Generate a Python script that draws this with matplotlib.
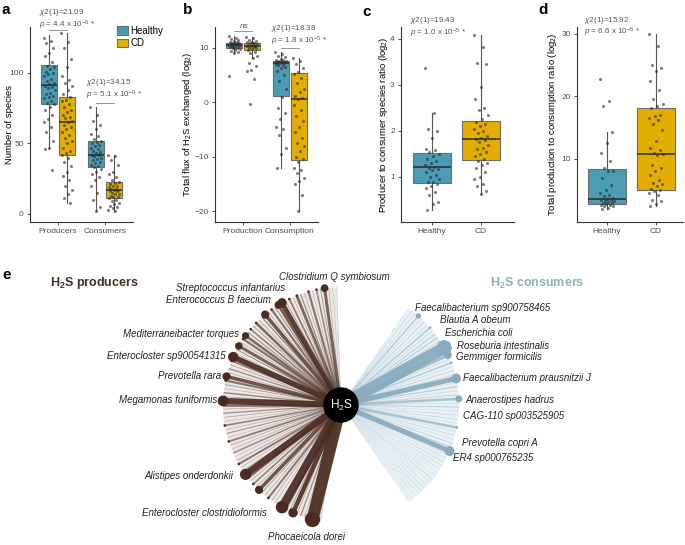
import numpy as np
import matplotlib
matplotlib.use("Agg")
import matplotlib.pyplot as plt
from matplotlib.patches import Patch, Wedge, Circle

plt.rcParams['font.family'] = ['Liberation Sans', 'DejaVu Sans']
plt.rcParams['mathtext.fontset'] = 'custom'
plt.rcParams['mathtext.rm'] = 'Liberation Sans'
plt.rcParams['mathtext.it'] = 'Liberation Sans:italic'
plt.rcParams['mathtext.bf'] = 'Liberation Sans:bold'

W, H = 685, 545
HEALTHY = '#4a9bb3'
CD = '#e3ad00'
BROWN = '#4a2b20'
BLUE = '#87abbf'

# ---- panel a: number of species (Producers H, Producers CD, Consumers H, Consumers CD)
a_med = [91.5, 65, 42, 17]
a_q1 = [78, 42, 33, 11]
a_q3 = [106, 83, 52, 23]
a_lo = [47, 8, 2, 2]
a_hi = [127, 128, 76, 42]
a_prod_h = [125, 123, 121, 118, 114, 112, 108, 105, 104, 103, 101, 100, 99, 98, 96, 94, 93, 92, 91,
            90, 89, 88, 86, 85, 84, 83, 82, 80, 79, 78, 76, 74, 70, 67, 65, 62, 58, 52, 47, 46, 31]
a_prod_cd = [128, 122, 118, 110, 104, 98, 95, 93, 91, 88, 85, 83, 81, 80, 78, 76, 74, 72, 70, 69, 68,
             66, 65, 63, 62, 60, 58, 56, 54, 52, 50, 47, 45, 43, 42, 40, 37, 34, 30, 27, 24, 20, 17, 14, 11, 8]
a_cons_h = [76, 70, 66, 63, 60, 57, 55, 53, 52, 51, 50, 49, 48, 47, 46, 45, 44, 43, 42, 42, 41, 40,
            39, 38, 37, 36, 35, 34, 33, 32, 30, 28, 26, 24, 20, 15, 10, 5, 2]
a_cons_cd = [42, 41, 38, 35, 30, 28, 26, 24, 23, 22, 21, 20, 20, 19, 18, 18, 17, 17, 16, 16, 15, 14,
             14, 13, 12, 12, 11, 10, 9, 8, 7, 6, 5, 4, 3, 2]

# ---- panel b: total H2S flux (log2)
b_med = [10.5, 10.3, 7.1, 0.6]
b_q1 = [9.9, 9.6, 1.1, -10.6]
b_q3 = [10.8, 10.8, 7.5, 5.4]
b_lo = [9.0, 8.1, -12.0, -20.0]
b_hi = [12.1, 12.0, 9.2, 8.2]
b_prod_h = [12.1, 11.8, 11.6, 11.4, 11.2, 11.1, 11.0, 10.9, 10.8, 10.8, 10.7, 10.6, 10.6, 10.5, 10.5,
            10.4, 10.3, 10.2, 10.1, 10.0, 9.9, 9.8, 9.6, 9.4, 9.2, 9.0, 4.8]
b_prod_cd = [12.0, 11.7, 11.5, 11.3, 11.1, 11.0, 10.9, 10.8, 10.7, 10.6, 10.5, 10.4, 10.3, 10.3, 10.2,
             10.0, 9.9, 9.8, 9.6, 9.3, 9.0, 8.5, 8.1, 7.2, 6.6, 5.9, 5.7, 4.3, -0.4]
b_cons_h = [9.2, 8.8, 8.5, 8.3, 8.0, 7.8, 7.7, 7.6, 7.5, 7.4, 7.3, 7.2, 7.1, 7.0, 6.9, 6.8, 6.5, 6.2,
            5.8, 5.0, 3.8, 2.5, 1.0, -1.0, -2.0, -3.0, -4.5, -5.0, -6.0, -8.5, -9.5, -12.0]
b_cons_cd = [8.2, 7.6, 7.0, 6.2, 5.5, 5.2, 4.5, 3.5, 2.5, 1.8, 1.2, 0.8, 0.5, -0.5, -1.5, -2.5, -3.5,
             -4.5, -5.5, -6.5, -7.5, -8.0, -9.0, -10.0, -10.5, -11.0, -12.0, -12.5, -13.0, -14.0,
             -14.5, -15.0, -17.0, -20.0]

# ---- panel c: producer/consumer species ratio (Healthy, CD)
c_med = [1.21, 1.83]
c_q1 = [0.87, 1.37]
c_q3 = [1.52, 2.22]
c_lo = [0.28, 0.62]
c_hi = [2.39, 4.08]
c_h = [3.37, 2.39, 2.05, 2.0, 1.85, 1.6, 1.58, 1.55, 1.5, 1.45, 1.4, 1.35, 1.3, 1.25, 1.22, 1.2, 1.18,
       1.15, 1.1, 1.05, 1.0, 0.95, 0.9, 0.88, 0.85, 0.8, 0.75, 0.68, 0.6, 0.45, 0.42, 0.28]
c_cd = [4.08, 3.82, 3.48, 3.45, 2.95, 2.7, 2.5, 2.45, 2.35, 2.25, 2.2, 2.15, 2.1, 2.05, 2.0, 1.95, 1.9,
        1.85, 1.83, 1.8, 1.75, 1.7, 1.62, 1.6, 1.55, 1.5, 1.45, 1.4, 1.35, 1.3, 1.25, 1.2, 1.1, 1.0,
        0.95, 0.85, 0.8, 0.7, 0.62]

# ---- panel d: production/consumption ratio
d_med = [3.6, 10.8]
d_q1 = [2.8, 5.0]
d_q3 = [8.4, 18.2]
d_lo = [2.0, 2.5]
d_hi = [14.3, 30.0]
d_h = [22.8, 19.3, 18.4, 14.3, 12.6, 11.0, 9.6, 8.6, 8.1, 8.0, 7.0, 5.8, 5.1, 4.5, 4.2, 4.0, 3.8, 3.6,
       3.5, 3.4, 3.3, 3.2, 3.1, 3.0, 2.9, 2.8, 2.7, 2.6, 2.5, 2.4, 2.2, 2.0]
d_cd = [30.0, 28.0, 25.0, 24.6, 24.0, 22.5, 21.0, 19.6, 18.8, 18.5, 18.2, 17.0, 16.8, 16.5, 16.2, 15.6,
        14.6, 12.8, 11.8, 11.5, 11.0, 10.8, 10.6, 9.0, 8.6, 8.0, 7.5, 6.6, 6.2, 6.0, 5.7, 5.2, 5.0,
        4.8, 4.6, 4.2, 3.5, 3.2, 2.8, 2.5]

# ---- panel e: H2S exchange network
prod_names = ['Clostridium Q symbiosum', 'Streptococcus infantarius', 'Enterococcus B faecium',
              'Mediterraneibacter torques', 'Enterocloster sp900541315', 'Prevotella rara',
              'Megamonas funiformis', 'Alistipes onderdonkii', 'Enterocloster clostridioformis',
              'Phocaeicola dorei']
prod_flux = [0.3, 3.0, 4.5, 2.6, 5.5, 3.5, 6.0, 6.5, 8.0, 12.0]
prod_rank = [0, 3, 14, 26, 32, 37, 43, 62, 74, 82]
prod_other = [0.3, 0.5,
              0.8, 1.5, 0.4, 2.2, 0.6, 1.2, 2.8, 0.5, 1.8, 0.7,
              3.2, 1.0, 2.2, 0.5, 3.5, 1.2, 0.6, 2.6, 0.8, 1.6, 1.0,
              2.2, 0.6, 3.0, 1.0, 0.5,
              1.8, 0.7, 1.2, 0.5,
              2.2, 0.8, 0.4, 1.4, 0.6,
              2.6, 0.5, 1.2, 0.6, 0.4, 1.6, 0.5, 1.0, 0.4, 1.8, 0.6, 0.5, 1.4, 0.4, 0.7, 2.0, 0.5, 0.8,
              2.6, 0.6, 1.6, 0.5, 3.5, 0.8, 0.5, 2.0, 0.6, 0.4, 0.8,
              2.6, 0.8, 4.5, 0.6, 1.2, 0.5, 0.8,
              0.6, 0.4]

cons_names = ['Faecalibacterium sp900758465', 'Blautia A obeum', 'Escherichia coli',
              'Roseburia intestinalis', 'Gemmiger formicilis', 'Faecalibacterium prausnitzii J',
              'Anaerostipes hadrus', 'CAG-110 sp003525905', 'Prevotella copri A', 'ER4 sp000765235']
cons_flux = [1.5, 1.0, 1.2, 12.0, 2.0, 5.0, 2.5, 0.6, 1.0, 5.0]
cons_rank = [3, 9, 10, 13, 14, 21, 26, 30, 38, 39]
cons_other = [0.4, 0.6, 0.5,
              0.5, 0.8, 0.4, 1.5, 0.6,
              0.8, 1.2,
              3.0, 0.6, 1.5, 0.5, 0.8, 0.6,
              0.6, 1.2, 0.5, 0.8,
              0.5, 1.0, 0.4,
              0.6, 0.4, 2.5, 0.5, 0.6, 0.4, 0.8,
              0.5, 0.4, 0.6, 0.4, 0.5, 0.3, 0.4, 0.6, 0.3, 0.4, 0.3, 0.5, 0.3, 0.4, 0.3, 0.3]

# label offsets (pixels) from node end
prod_off = [(-3, 5, 'center'), (-39, 0, 'right'), (-11, 3, 'right'), (-7, 2, 'right'), (-8, 1, 'right'),
            (-5, 0, 'right'), (-6, 1, 'right'), (-12, -2, 'right'), (-15, -6, 'right'), (-6, -18, 'center')]
cons_off = [(-3, 8), (5, 14), (7, 4), (13, 2), (10, -6), (7, 0), (7, -1), (4, -1), (11, 4), (3, -7)]


def axes_px(fig, x0, y0, x1, y1):
    return fig.add_axes([x0 / W, 1 - y1 / H, (x1 - x0) / W, (y1 - y0) / H])


def ftext(fig, x, y, s, **kw):
    fig.text(x / W, 1 - y / H, s, **kw)


def jitter(n, w):
    return np.array([((k * 0.618034) % 1.0 - 0.5) * 2 * w for k in range(n)])


def style(ax, lab_x):
    for s in ['top', 'right']:
        ax.spines[s].set_visible(False)
    for s in ['left', 'bottom']:
        ax.spines[s].set_color('#333333')
        ax.spines[s].set_linewidth(0.8)
    ax.tick_params(labelsize=6, colors='#333333', labelcolor='#4d4d4d', length=2.5, width=0.6, pad=2)
    ax.yaxis.set_label_coords(lab_x, 0.5)


def boxes(ax, pos, width, med, q1, q3, lo, hi, colors, groups, jw):
    stats = [dict(med=m, q1=a, q3=b, whislo=l, whishi=h, fliers=[])
             for m, a, b, l, h in zip(med, q1, q3, lo, hi)]
    bp = ax.bxp(stats, positions=pos, widths=width, patch_artist=True, showfliers=False, showcaps=False,
                boxprops=dict(edgecolor='#6d6d6d', linewidth=0.8),
                medianprops=dict(color='#2b2b2b', linewidth=1.1),
                whiskerprops=dict(color='#555555', linewidth=0.8))
    for patch, c in zip(bp['boxes'], colors):
        patch.set_facecolor(c)
    for p, vals in zip(pos, groups):
        vals = np.array(vals)
        ax.scatter(p + jitter(len(vals), jw), vals, s=5, color='#2a2a2a', alpha=0.6, lw=0, zorder=3)


fig = plt.figure(figsize=(6.85, 5.45), dpi=100)

pos4 = [0.81, 1.19, 1.81, 2.19]
col4 = [HEALTHY, CD, HEALTHY, CD]

# a
ax = axes_px(fig, 30, 27, 133, 222)
boxes(ax, pos4, 0.34, a_med, a_q1, a_q3, a_lo, a_hi, col4, [a_prod_h, a_prod_cd, a_cons_h, a_cons_cd], 0.12)
ax.set_xlim(0.4, 2.6)
ax.set_ylim(-5.7, 132.6)
ax.set_yticks([0, 50, 100])
ax.set_xticks([1, 2])
ax.set_xticklabels(['Producers', 'Consumers'])
ax.set_ylabel('Number of species', fontsize=6.8)
style(ax, -0.155)
ax.plot([0.81, 1.19], [130.5, 130.5], color='#888888', lw=0.6, clip_on=False)
ax.plot([1.81, 2.19], [78.7, 78.7], color='#888888', lw=0.6, clip_on=False)
fig.legend([Patch(facecolor=HEALTHY, edgecolor='#6d6d6d', lw=0.8), Patch(facecolor=CD, edgecolor='#6d6d6d', lw=0.8)],
           ['Healthy', 'CD'], loc='upper left', bbox_to_anchor=(117 / W, 1 - 26 / H), frameon=False,
           fontsize=7, handlelength=1.1, handleheight=1.0, labelspacing=0.25, handletextpad=0.3,
           borderaxespad=0, borderpad=0)

# b
ax = axes_px(fig, 215, 27, 318, 222)
boxes(ax, pos4, 0.34, b_med, b_q1, b_q3, b_lo, b_hi, col4, [b_prod_h, b_prod_cd, b_cons_h, b_cons_cd], 0.12)
ax.set_xlim(0.4, 2.6)
ax.set_ylim(-22, 13.8)
ax.set_yticks([-20, -10, 0, 10])
ax.set_xticks([1, 2])
ax.set_xticklabels(['Production', 'Consumption'])
ax.set_ylabel(r'Total flux of H$_2$S exchanged (log$_2$)', fontsize=6.8)
style(ax, -0.205)
ax.plot([0.81, 1.19], [13.0, 13.0], color='#888888', lw=0.6, clip_on=False)
ax.plot([1.81, 2.19], [9.9, 9.9], color='#888888', lw=0.6, clip_on=False)

# c
ax = axes_px(fig, 401, 27, 514, 222)
boxes(ax, [1, 2], 0.78, c_med, c_q1, c_q3, c_lo, c_hi, [HEALTHY, CD], [c_h, c_cd], 0.15)
ax.set_xlim(0.37, 2.67)
ax.set_ylim(0.02, 4.26)
ax.set_yticks([1, 2, 3, 4])
ax.set_xticks([1, 2])
ax.set_xticklabels(['Healthy', 'CD'])
ax.set_ylabel(r'Producer to consumer species ratio (log$_2$)', fontsize=6.8)
style(ax, -0.10)

# d
ax = axes_px(fig, 577, 27, 683, 222)
boxes(ax, [1, 2], 0.76, d_med, d_q1, d_q3, d_lo, d_hi, [HEALTHY, CD], [d_h, d_cd], 0.15)
ax.set_xlim(0.39, 2.55)
ax.set_ylim(-0.1, 31.1)
ax.set_yticks([10, 20, 30])
ax.set_xticks([1, 2])
ax.set_xticklabels(['Healthy', 'CD'])
ax.set_ylabel(r'Total production to consumption ratio (log$_2$)', fontsize=6.8)
style(ax, -0.17)

# stats text
gray = dict(color='#555555', fontsize=5.8, va='center')
ftext(fig, 39, 13, r'$\chi$2(1)=21.09', **gray)
ftext(fig, 39, 25, r'$p$ = 4.4 x 10$^{-6}$ *', **gray)
ftext(fig, 86, 82, r'$\chi$2(1)=34.15', **gray)
ftext(fig, 86, 95, r'$p$ = 5.1 x 10$^{-9}$ *', **gray)
ftext(fig, 244, 26, 'ns', style='italic', ha='center', color='#555555', fontsize=6, va='center')
ftext(fig, 271, 28, r'$\chi$2(1)=18.38', **gray)
ftext(fig, 271, 41, r'$p$ = 1.8 x 10$^{-5}$ *', **gray)
ftext(fig, 410, 21, r'$\chi$2(1)=19.43', **gray)
ftext(fig, 410, 33, r'$p$ = 1.0 x 10$^{-5}$ *', **gray)
ftext(fig, 584, 20, r'$\chi$2(1)=15.92', **gray)
ftext(fig, 584, 32, r'$p$ = 6.6 x 10$^{-5}$ *', **gray)

for lab, x, y in [('a', 2, 10), ('b', 183, 10), ('c', 362, 12), ('d', 538, 10), ('e', 2, 275)]:
    ftext(fig, x, y, lab, fontsize=11, fontweight='bold', va='center')

# e network
ax = axes_px(fig, 0, 270, 685, 545)
ax.set_xlim(0, W)
ax.set_ylim(0, 275)
ax.axis('off')
cx, cy, R = 341, 140, 118


def fan(names, flux, rank, other, a0, step, color, offs, side):
    n = len(names) + len(other)
    fl = [None] * n
    labelled = set(rank)
    for f, r in zip(flux, rank):
        fl[r] = f
    it = iter(other)
    for k in range(n):
        if fl[k] is None:
            fl[k] = next(it)
    for k in np.argsort(fl):
        t = np.radians(a0 + step * k)
        x, y = cx + R * np.cos(t), cy + R * np.sin(t)
        f = fl[k]
        ax.plot([cx, x], [cy, y], color=color, lw=f * 0.72, alpha=min(0.92, 0.35 + 0.12 * f),
                solid_capstyle='butt', zorder=2)
        if (k in labelled and f >= 1.5) or f >= 3.0:
            ax.add_patch(Circle((x, y), 2.2 * np.sqrt(f), color=color, zorder=3, lw=0))
        elif f >= 1.5:
            ax.add_patch(Circle((x, y), 1.3, color=color, zorder=3, lw=0))
    for nm, r, off in zip(names, rank, offs):
        t = np.radians(a0 + step * r)
        x, y = cx + R * np.cos(t), cy + R * np.sin(t)
        ha = off[2] if side == 'left' else 'left'
        va = 'bottom' if (side == 'left' and off[2] == 'center' and off[1] > 0) else 'center'
        ax.text(x + off[0], y + off[1], nm, ha=ha, va=va, fontsize=7, style='italic', color='#222222')


ax.add_patch(Wedge((cx, cy), R, 92, 260, facecolor='#dcd2ce', alpha=0.55, lw=0, zorder=1))
ax.add_patch(Wedge((cx, cy), R, -55, 55, facecolor='#d8e6ee', alpha=0.55, lw=0, zorder=1))
fan(prod_names, prod_flux, prod_rank, prod_other, 92, 2.0, BROWN, prod_off, 'left')
fan(cons_names, cons_flux, cons_rank, cons_other, 55, -2.0, BLUE, [(o[0], o[1], 'left') for o in cons_off], 'right')
ax.add_patch(Circle((cx, cy), 17, color='black', zorder=10))
ax.text(cx, cy, r'H$_2$S', color='white', fontsize=8.5, ha='center', va='center', zorder=11)
ax.text(94, 545 - 283, r'H$_\mathbf{2}$S producers', color=BROWN, fontsize=9, fontweight='bold',
        ha='center', va='center')
ax.text(537, 545 - 283, r'H$_\mathbf{2}$S consumers', color='#8fb0c4', fontsize=9, fontweight='bold',
        ha='center', va='center')

fig.savefig('out.png', dpi=100)
